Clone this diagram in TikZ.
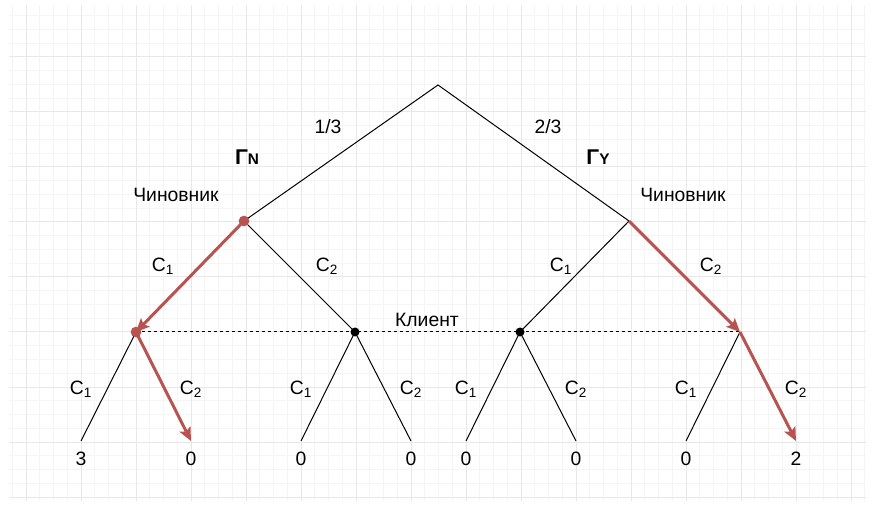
\documentclass[tikz,border=0pt]{standalone}
\usepackage{fontspec}
\setmainfont{Liberation Sans}
\usepackage{tikz}
\usetikzlibrary{arrows.meta}
\definecolor{branch}{HTML}{B85450}
\definecolor{gridmin}{HTML}{F5F5F5}
\definecolor{gridmaj}{HTML}{E8E8E8}
\newcommand{\cstrat}[1]{C\textsubscript{#1}}

\begin{document}
\begin{tikzpicture}[
  x=0.75pt,y=-0.75pt,
  lbl/.style={font=\fontsize{14.5}{16}\selectfont,inner sep=0pt},
  gam/.style={lbl,font=\fontsize{16}{18}\selectfont\bfseries},
  edge/.style={draw=black,line width=0.75pt},
  pick/.style={-{Stealth[length=10pt,width=9pt,inset=2pt]},draw=branch,line width=2.25pt},
  info/.style={draw=black,line width=0.75pt,dash pattern=on 2.25pt off 2.25pt},
  dot/.style={circle,fill=black,inner sep=0pt,minimum size=6.75pt},
  rdot/.style={dot,fill=branch,minimum size=8pt}
]
\useasboundingbox[fill=white] (0,0) rectangle (872,506);

% background grid
\begin{scope}
  \clip (9,6) rectangle (866,500);
  \foreach \i in {-2,...,62}
    \draw[gridmin,line width=0.75pt] ({26+13.75*\i},0) -- ({26+13.75*\i},506);
  \foreach \j in {-1,...,37}
    \draw[gridmin,line width=0.75pt] (0,{2+13.75*\j}) -- (872,{2+13.75*\j});
  \foreach \i in {0,...,15}
    \draw[gridmaj,line width=0.75pt] ({26+55*\i},0) -- ({26+55*\i},506);
  \foreach \j in {0,...,9}
    \draw[gridmaj,line width=0.75pt] (0,{2+55*\j}) -- (872,{2+55*\j});
\end{scope}

% tree points
\coordinate (root) at (438,85);
\coordinate (offN) at (244,221);
\coordinate (offY) at (629,221);
\coordinate (cliNa) at (136,332);
\coordinate (cliNb) at (355,332);
\coordinate (cliYa) at (520,332);
\coordinate (cliYb) at (740,332);
\foreach \x [count=\k] in {81,191,301,411,466,576,686,796}
  \coordinate (leaf\k) at (\x,441);

% payoffs
\node[lbl] (pay1) at (81,459) {3};
\node[lbl] (pay2) at (191,459) {0};
\node[lbl] (pay3) at (301,459) {0};
\node[lbl] (pay4) at (411,459) {0};
\node[lbl] (pay5) at (466,459) {0};
\node[lbl] (pay6) at (576,459) {0};
\node[lbl] (pay7) at (686,459) {0};
\node[lbl] (pay8) at (796,459) {2};

% information set
\draw[info] (cliNa) -- (cliYb);

% branches
\draw[edge] (offN) -- (root) -- (offY);
\draw[edge] (offN) -- (cliNb);
\draw[edge] (offY) -- (cliYa);
\draw[edge] (cliNa) -- (leaf1);
\draw[edge] (leaf3) -- (cliNb) -- (leaf4);
\draw[edge] (leaf5) -- (cliYa) -- (leaf6);
\draw[edge] (cliYb) -- (leaf7);
\draw[pick] (offN) -- (cliNa);
\draw[pick] (cliNa) -- (leaf2);
\draw[pick] (offY) -- (cliYb);
\draw[pick] (cliYb) -- (leaf8);

% dots
\node[rdot] (dN) at (offN) {};
\node[rdot] (dNa) at (cliNa) {};
\node[dot] (dNb) at (cliNb) {};
\node[dot] (dYa) at (cliYa) {};

% labels
\node[lbl] (p13) at (328,127) {1/3};
\node[lbl] (p23) at (548,127) {2/3};
\node[gam] (gamN) at (247,157) {Γ{\fontsize{11.5}{12}\selectfont N}};
\node[gam] (gamY) at (598,157) {Γ{\fontsize{11.5}{12}\selectfont Y}};
\node[lbl] (offNlbl) at (176,195) {Чиновник};
\node[lbl] (offYlbl) at (683,195) {Чиновник};
\node[lbl] (clilbl) at (427,320) {Клиент};
\node[lbl] (c11) at (163,266) {\cstrat{1}};
\node[lbl] (c12) at (327,266) {\cstrat{2}};
\node[lbl] (c13) at (561,266) {\cstrat{1}};
\node[lbl] (c14) at (711,266) {\cstrat{2}};
\foreach \x/\s [count=\k] in {81/1,191/2,301/1,411/2,466/1,576/2,686/1,796/2}
  \node[lbl] (c2\k) at (\x,389) {\cstrat{\s}};
\end{tikzpicture}
\end{document}
